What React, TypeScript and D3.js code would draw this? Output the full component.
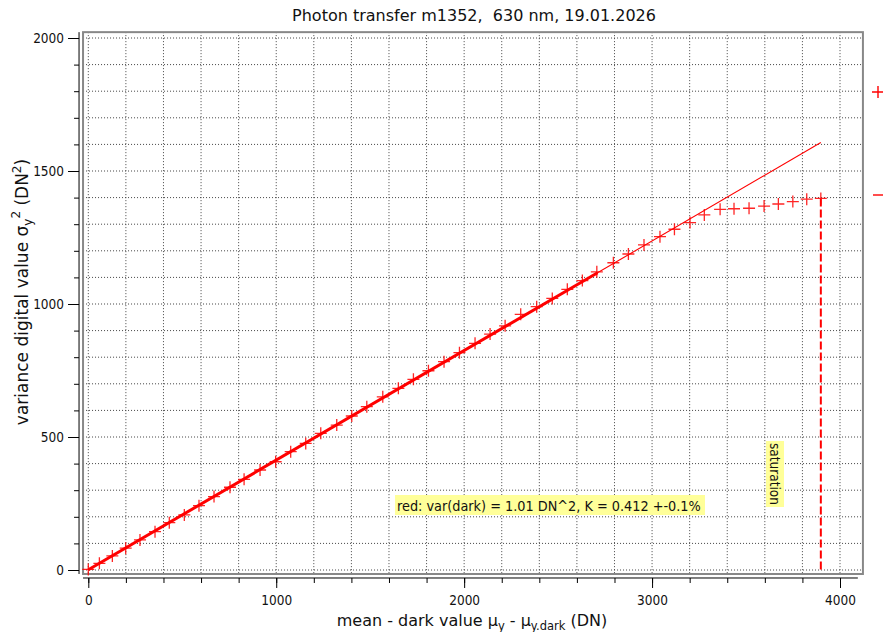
import React, { useRef, useEffect } from "react";
import * as d3 from "d3";

// mean - dark value (DN) and variance (DN^2)
const MU = [
  0, 59, 128, 199, 275, 355, 431, 511, 589, 669, 754, 829, 914, 997, 1077,
  1157, 1237, 1322, 1402, 1482, 1567, 1650, 1730, 1810, 1893, 1975, 2058,
  2138, 2218, 2301, 2386, 2469, 2549, 2629, 2706, 2794, 2874, 2957, 3042,
  3119, 3202, 3278, 3362, 3436, 3516, 3596, 3672, 3749, 3823, 3898,
];
const VARIANCE = [
  2, 25, 53, 82, 113, 144, 178, 207, 242, 276, 311, 341, 376, 407, 445, 476,
  514, 545, 579, 614, 651, 683, 717, 749, 783, 817, 852, 887, 918, 961, 990,
  1021, 1055, 1088, 1121, 1155, 1188, 1222, 1253, 1281, 1306, 1335, 1356,
  1358, 1360, 1368, 1376, 1385, 1394, 1397,
];
const FIT_K = 0.412;
const FIT_VAR_DARK = 1.01;
const FIT_RANGE_END = 2710;
const SATURATION_MU = 3898;
const SATURATION_VAR = 1397;

const X_MAJOR = [0, 1000, 2000, 3000, 4000];
const Y_MAJOR = [0, 500, 1000, 1500, 2000];

const TITLE = "Photon transfer m1352,  630 nm, 19.01.2026";
const NOTE = "red: var(dark) = 1.01 DN^2, K = 0.412 +-0.1%";

const COND = "'DejaVu Sans Condensed', 'DejaVu Sans', sans-serif";
const FONT = "'DejaVu Sans', sans-serif";

const PhotonTransfer = () => {
  const svgRef = useRef<SVGSVGElement>(null);

  useEffect(() => {
    const svg = d3.select(svgRef.current);
    svg.selectAll("*").remove();

    const x = d3.scaleLinear().domain([0, 4000]).range([88.3, 840]);
    const y = d3.scaleLinear().domain([0, 2000]).range([570, 38]);

    const fx0 = x(-28), fx1 = x(4122);
    const fy0 = y(-15), fy1 = y(2022);

    // grid
    const grid = svg.append("g").attr("stroke", "#444").attr("stroke-dasharray", "1,2");
    d3.range(0, 4001, 200).forEach((v) => {
      grid.append("line").attr("x1", x(v)).attr("x2", x(v)).attr("y1", fy1).attr("y2", fy0);
    });
    d3.range(0, 2001, 100).forEach((v) => {
      grid.append("line").attr("x1", fx0).attr("x2", fx1).attr("y1", y(v)).attr("y2", y(v));
    });

    // frame
    svg.append("rect")
      .attr("x", fx0).attr("y", fy1)
      .attr("width", fx1 - fx0).attr("height", fy0 - fy1)
      .attr("fill", "none").attr("stroke", "#888").attr("stroke-width", 2);

    // y axis
    const yAxis = d3.axisLeft(y).tickValues(d3.range(0, 2001, 100))
      .tickSize(5).tickFormat(() => "");
    const ya = svg.append("g").attr("transform", `translate(${fx0 - 4},0)`).call(yAxis);
    ya.select(".domain").attr("d", `M0,${fy1}V${fy0}`);
    const yMaj = d3.axisLeft(y).tickValues(Y_MAJOR).tickSize(11).tickPadding(4)
      .tickFormat(d3.format("d"));
    const ym = svg.append("g").attr("transform", `translate(${fx0 - 4},0)`).call(yMaj);
    ym.select(".domain").remove();
    ym.selectAll("text").attr("font-family", COND).attr("font-size", 13.5).attr("fill", "#111");

    // x axis
    const axY = fy0 + 4;
    const xAxis = d3.axisBottom(x).tickValues(d3.range(0, 4001, 200))
      .tickSize(5).tickFormat(() => "");
    const xa = svg.append("g").attr("transform", `translate(0,${axY})`).call(xAxis);
    xa.select(".domain").attr("d", `M${fx0},0H${x(4095)}`);
    const xMaj = d3.axisBottom(x).tickValues(X_MAJOR).tickSize(10).tickPadding(7)
      .tickFormat(d3.format("d"));
    const xm = svg.append("g").attr("transform", `translate(0,${axY})`).call(xMaj);
    xm.select(".domain").remove();
    xm.selectAll("text").attr("font-family", COND).attr("font-size", 13.5).attr("fill", "#111");

    // fit line
    const fit = d3.line<number>().x((m) => x(m)).y((m) => y(FIT_VAR_DARK + FIT_K * m));
    svg.append("path").attr("d", fit([0, SATURATION_MU])).attr("stroke", "#ff0000")
      .attr("stroke-width", 1.1).attr("fill", "none");
    svg.append("path").attr("d", fit([0, FIT_RANGE_END])).attr("stroke", "#ff0000")
      .attr("stroke-width", 3).attr("fill", "none");

    // saturation
    svg.append("line")
      .attr("x1", x(SATURATION_MU)).attr("x2", x(SATURATION_MU))
      .attr("y1", y(SATURATION_VAR)).attr("y2", y(0))
      .attr("stroke", "#ff0000").attr("stroke-width", 2).attr("stroke-dasharray", "8,3");

    // markers
    const s = 6;
    svg.append("g").attr("stroke", "#ff0000").attr("stroke-width", 1.3).attr("opacity", 0.85)
      .selectAll("path").data(MU).enter().append("path")
      .attr("d", (m, i) => {
        const cx = x(m), cy = y(VARIANCE[i]);
        return `M${cx - s},${cy}H${cx + s}M${cx},${cy - s}V${cy + s}`;
      });

    // legend symbols (cut at right edge)
    svg.append("path").attr("d", "M872,92H884M878,86V98").attr("stroke", "#ff0000").attr("stroke-width", 1.4);
    svg.append("path").attr("d", "M873,195H883").attr("stroke", "#ff0000").attr("stroke-width", 1.4);

    // note
    const note = svg.append("g");
    note.append("rect").attr("x", 395).attr("y", 495).attr("width", 310).attr("height", 20).attr("fill", "#ffff99");
    note.append("text").attr("x", 397).attr("y", 511).attr("font-family", COND).attr("font-size", 14.3)
      .attr("fill", "#111").text(NOTE);

    const sat = svg.append("g").attr("transform", "translate(775,474) rotate(90)");
    sat.append("rect").attr("x", -33).attr("y", -9).attr("width", 66).attr("height", 18).attr("fill", "#ffff99");
    sat.append("text").attr("x", 0).attr("y", 5).attr("text-anchor", "middle").attr("font-family", COND)
      .attr("font-size", 13.5).attr("fill", "#111").text("saturation");

    // title
    svg.append("text").attr("x", 474).attr("y", 21).attr("text-anchor", "middle")
      .attr("font-family", FONT).attr("font-size", 16).attr("fill", "#111")
      .style("white-space", "pre").text(TITLE);

    // x label
    const xl = svg.append("text").attr("x", 472).attr("y", 626).attr("text-anchor", "middle")
      .attr("font-family", FONT).attr("font-size", 16).attr("fill", "#111");
    xl.append("tspan").text("mean - dark value \u03bc");
    xl.append("tspan").attr("font-size", 11.5).attr("dy", 4).text("y");
    xl.append("tspan").attr("dy", -4).text(" - \u03bc");
    xl.append("tspan").attr("font-size", 11.5).attr("dy", 4).text("y.dark");
    xl.append("tspan").attr("dy", -4).text(" (DN)");

    // y label
    const yl = svg.append("text").attr("transform", "translate(28,292) rotate(-90)")
      .attr("text-anchor", "middle").attr("font-family", FONT).attr("font-size", 17).attr("fill", "#111");
    yl.append("tspan").text("variance digital value \u03c3");
    yl.append("tspan").attr("font-size", 12).attr("dy", 4).text("y");
    yl.append("tspan").attr("font-size", 12).attr("dy", -12).text("2");
    yl.append("tspan").attr("dy", 8).text(" (DN");
    yl.append("tspan").attr("font-size", 12).attr("dy", -7).text("2");
    yl.append("tspan").attr("dy", 7).text(")");
  }, []);

  return (
    <svg
      ref={svgRef}
      width={883}
      height={632}
      style={{ position: "absolute", left: 0, top: 0, background: "#fff" }}
    />
  );
};

export default function App() {
  return <PhotonTransfer />;
}
